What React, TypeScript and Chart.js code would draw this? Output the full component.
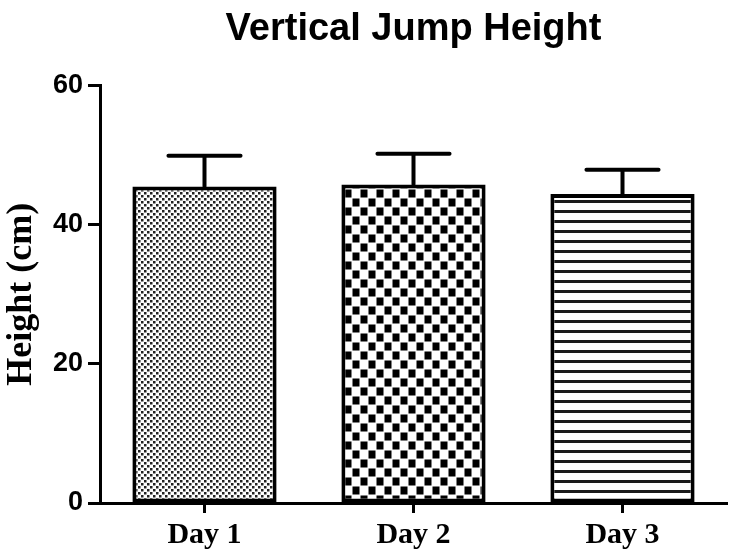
import React, { useEffect, useRef } from 'react';
import { Chart, registerables } from 'chart.js';

Chart.register(...registerables);

const categories = ['Day 1', 'Day 2', 'Day 3'];
const heights = [45.5, 45.8, 44.4];
const errors = [4.4, 4.4, 3.5];
const yTicks = [0, 20, 40, 60];
const patternKinds = ['dots', 'checker', 'lines'];

function makePattern(kind: string): CanvasPattern | string {
  const c = document.createElement('canvas');
  const ctx = c.getContext('2d');
  if (!ctx) return '#888';
  if (kind === 'dots') {
    c.width = 6; c.height = 6;
    ctx.fillStyle = '#fff'; ctx.fillRect(0, 0, 6, 6);
    ctx.fillStyle = '#222';
    ctx.fillRect(0, 0, 2.5, 2.5);
    ctx.fillRect(3, 3, 2.5, 2.5);
  } else if (kind === 'checker') {
    c.width = 16; c.height = 18;
    ctx.fillStyle = '#fff'; ctx.fillRect(0, 0, 16, 18);
    ctx.fillStyle = '#000';
    ctx.fillRect(0.5, 0.5, 7, 8);
    ctx.fillRect(8.5, 9.5, 7, 8);
  } else {
    c.width = 8; c.height = 10;
    ctx.fillStyle = '#fff'; ctx.fillRect(0, 0, 8, 10);
    ctx.fillStyle = '#1a1a1a';
    ctx.fillRect(0, 0, 8, 3);
  }
  return ctx.createPattern(c, 'repeat') || '#888';
}

const errorBarPlugin = {
  id: 'errorBars',
  afterDatasetsDraw(chart: any) {
    const meta = chart.getDatasetMeta(0);
    const yScale = chart.scales.y;
    const ctx = chart.ctx;
    ctx.save();
    ctx.strokeStyle = '#000';
    ctx.lineWidth = 4;
    ctx.lineCap = 'round';
    meta.data.forEach((bar: any, i: number) => {
      const top = yScale.getPixelForValue(heights[i] + errors[i]);
      const half = bar.width * 0.25;
      ctx.beginPath();
      ctx.moveTo(bar.x, bar.y);
      ctx.lineTo(bar.x, top);
      ctx.moveTo(bar.x - half, top);
      ctx.lineTo(bar.x + half, top);
      ctx.stroke();
    });
    ctx.restore();
  },
};

export default function App() {
  const ref = useRef<HTMLCanvasElement | null>(null);
  useEffect(() => {
    if (!ref.current) return;
    const chart = new Chart(ref.current, {
      type: 'bar',
      data: {
        labels: categories,
        datasets: [
          {
            data: heights,
            backgroundColor: patternKinds.map((k) => makePattern(k)) as any,
            borderColor: '#000',
            borderWidth: 4,
            borderSkipped: false,
            barPercentage: 0.69,
            categoryPercentage: 1,
          },
        ],
      },
      options: {
        animation: false,
        responsive: true,
        maintainAspectRatio: false,
        layout: { padding: { left: 0, right: 10, top: 0, bottom: 0 } },
        plugins: {
          legend: { display: false },
          tooltip: { enabled: false },
          title: {
            display: true,
            text: 'Vertical Jump Height',
            color: '#000',
            fullSize: false,
            font: { family: 'Liberation Sans', weight: 'bold', size: 38 },
            padding: { top: 7, bottom: 33 },
          },
        },
        scales: {
          x: {
            afterFit: (s: any) => { s.height = 55; },
            grid: {
              display: true,
              drawOnChartArea: false,
              drawTicks: true,
              tickLength: 10,
              tickWidth: 3,
              tickColor: '#000',
              offset: false,
            },
            border: { display: true, color: '#000', width: 3 },
            ticks: {
              color: '#000',
              padding: 4,
              font: { family: 'Liberation Serif', weight: 'bold', size: 30 },
            },
          },
          y: {
            min: 0,
            max: 60,
            afterFit: (s: any) => { s.width = 100; },
            afterBuildTicks: (s: any) => { s.ticks = yTicks.map((v) => ({ value: v })); },
            grid: {
              display: true,
              drawOnChartArea: false,
              drawTicks: true,
              tickLength: 12,
              tickWidth: 3,
              tickColor: '#000',
            },
            border: { display: true, color: '#000', width: 3 },
            ticks: {
              color: '#000',
              padding: 5,
              font: { family: 'Liberation Sans', weight: 'bold', size: 27 },
            },
            title: {
              display: true,
              text: 'Height (cm)',
              color: '#000',
              padding: 0,
              font: { family: 'Liberation Serif', weight: 'bold', size: 36 },
            },
          },
        },
      },
      plugins: [errorBarPlugin],
    });
    return () => chart.destroy();
  }, []);
  return (
    <div style={{ position: 'fixed', left: 0, top: 0, width: 737, height: 558, background: '#fff' }}>
      <canvas ref={ref} />
    </div>
  );
}
